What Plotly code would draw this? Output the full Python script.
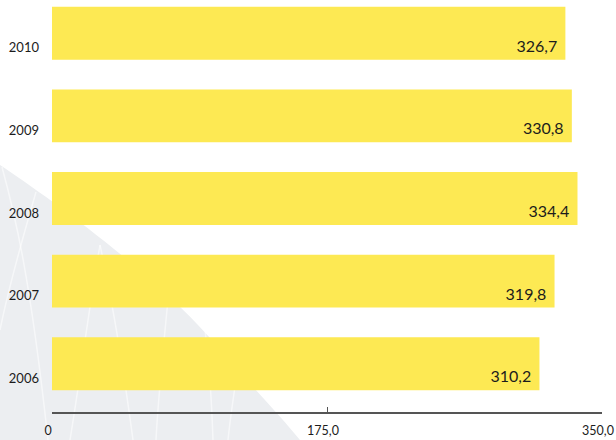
import plotly.graph_objects as go

years = ["2006", "2007", "2008", "2009", "2010"]
values = [310.2, 319.8, 334.4, 330.8, 326.7]
value_labels = ["310,2", "319,8", "334,4", "330,8", "326,7"]
x_tickvals = [0, 175, 350]
x_ticktext = ["0", "175,0", "350,0"]

BAR_COLOR = "#FDE953"
TEXT_COLOR = "#1c1c1c"
FONT = "Lato, 'Noto Sans', sans-serif"

W, H = 616, 440
ML, MR, MT, MB = 52, 14, 0, 28
PW, PH = W - ML - MR, H - MT - MB


def px(x, y):
    """pixel -> paper coordinates (decoration only)"""
    return f"{(x - ML) / PW:.4f},{(H - MB - y) / PH:.4f}"


fig = go.Figure()
fig.add_trace(go.Bar(
    x=values, y=years, orientation="h",
    marker=dict(color=BAR_COLOR, line=dict(width=0)),
    width=0.64, offset=-0.145,
    hoverinfo="skip",
))
# value labels, placed at the category level (bottom part of each bar)
fig.add_trace(go.Scatter(
    x=values, y=years, mode="text",
    text=[t + "  " for t in value_labels],
    textposition="middle left",
    textfont=dict(family=FONT, size=16, color=TEXT_COLOR),
    hoverinfo="skip", cliponaxis=False,
))

# decorative background shape
bg_path = (f"M {px(0,165)} C {px(45,195)} {px(150,270)} {px(210,338)} "
           f"C {px(250,385)} {px(280,415)} {px(300,440)} L {px(0,440)} Z")
shapes = [dict(type="path", path=bg_path, xref="paper", yref="paper",
               fillcolor="#ECEEF1", line=dict(width=0), layer="below")]
strands = [
    [(2, 167), (15, 215), (30, 275), (48, 440)],
    [(36, 192), (22, 240), (8, 290), (0, 330)],
    [(100, 245), (90, 300), (80, 380), (70, 440)],
    [(100, 245), (112, 300), (125, 380), (133, 440)],
    [(168, 300), (163, 350), (158, 400), (156, 440)],
    [(205, 330), (210, 370), (212, 410), (213, 440)],
    [(236, 380), (233, 400), (230, 420), (228, 440)],
]
for s in strands:
    p = f"M {px(*s[0])} C {px(*s[1])} {px(*s[2])} {px(*s[3])}"
    shapes.append(dict(type="path", path=p, xref="paper", yref="paper",
                       line=dict(color="rgba(255,255,255,0.55)", width=1.5),
                       layer="below"))

fig.update_layout(
    width=W, height=H,
    margin=dict(l=ML, r=MR, t=MT, b=MB, autoexpand=False),
    paper_bgcolor="white", plot_bgcolor="rgba(0,0,0,0)",
    showlegend=False,
    shapes=shapes,
    font=dict(family=FONT, color=TEXT_COLOR),
    xaxis=dict(
        range=[0, 350], tickvals=x_tickvals, ticktext=x_ticktext,
        showgrid=False, zeroline=False, showline=True,
        linecolor="#555555", linewidth=1.5,
        ticks="inside", ticklen=5, tickwidth=1.2, tickcolor="#555555",
        tickfont=dict(family=FONT, size=12.5, color=TEXT_COLOR),
        ticklabelstandoff=6, ticklabelshift=-4,
        ticklabeloverflow="allow", fixedrange=True,
    ),
    yaxis=dict(
        type="category", categoryorder="array", categoryarray=years,
        range=[-0.408, 4.577], showgrid=False, zeroline=False,
        showline=False, ticks="",
        tickfont=dict(family=FONT, size=13, color=TEXT_COLOR),
        ticklabelstandoff=12, fixedrange=True,
    ),
)

fig.write_html(
    "out.html",
    config={"displayModeBar": False},
    post_script="document.body.style.margin='0';document.body.style.overflow='hidden';",
)
